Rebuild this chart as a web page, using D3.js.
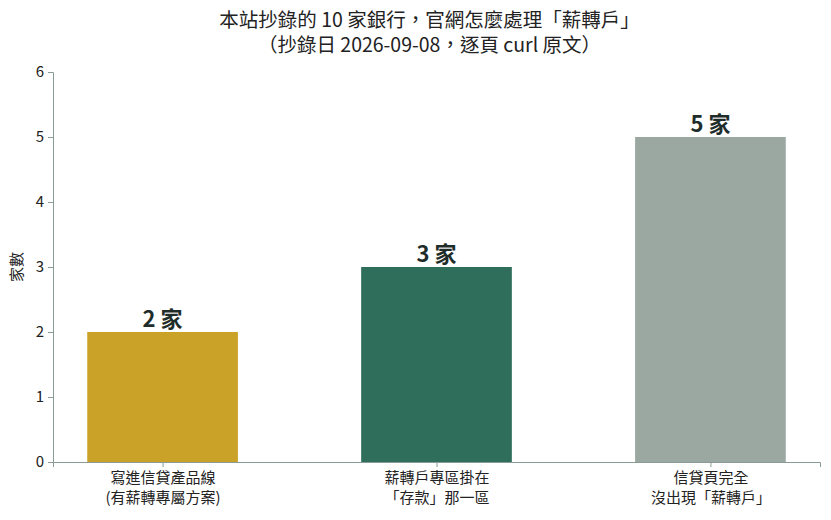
<!DOCTYPE html>
<html lang="zh-Hant">
<head>
  <meta charset="UTF-8">
  <title>薪轉戶</title>
  <script src="https://d3js.org/d3.v7.min.js"></script>
  <style>
    body { margin: 0; background: #fff; }
    svg text { font-family: "Noto Sans CJK TC", "Noto Sans", sans-serif; }
  </style>
</head>
<body>
  <div id="chart"></div>
  <script>
    const categories = [
      ["寫進信貸產品線", "(有薪轉專屬方案)"],
      ["薪轉戶專區掛在", "「存款」那一區"],
      ["信貸頁完全", "沒出現「薪轉戶」"]
    ];
    const counts = [2, 3, 5];
    const barColors = ["#c9a227", "#2e6e5a", "#9aa8a1"];
    const yTicks = [0, 1, 2, 3, 4, 5, 6];
    const titleLines = [
      "本站抄錄的 10 家銀行，官網怎麼處理「薪轉戶」",
      "（抄錄日 2026-09-08，逐頁 curl 原文）"
    ];

    const width = 831, height = 520;
    const margin = { top: 72, right: 11, bottom: 58, left: 53 };

    const svg = d3.select("#chart").append("svg")
        .attr("width", width)
        .attr("height", height);

    const x = d3.scaleLinear()
        .domain([-0.4, 2.4])
        .range([margin.left, width - margin.right]);

    const y = d3.scaleLinear()
        .domain([0, 6])
        .range([height - margin.bottom, margin.top]);

    const barW = 0.55;
    const axisColor = "#8a9a96";
    const textColor = "#222";

    // bars
    svg.selectAll("rect.bar")
        .data(counts)
        .enter()
        .append("rect")
        .attr("class", "bar")
        .attr("x", (d, i) => x(i - barW / 2))
        .attr("width", (d, i) => x(i + barW / 2) - x(i - barW / 2))
        .attr("y", d => y(d))
        .attr("height", d => y(0) - y(d))
        .attr("fill", (d, i) => barColors[i]);

    // value labels
    svg.selectAll("text.val")
        .data(counts)
        .enter()
        .append("text")
        .attr("class", "val")
        .attr("x", (d, i) => x(i))
        .attr("y", d => y(d) - 5)
        .attr("text-anchor", "middle")
        .attr("font-size", 22)
        .attr("font-weight", "bold")
        .attr("fill", "#1f2d2a")
        .text(d => d + " 家");

    // y axis
    const yAxis = svg.append("g")
        .attr("transform", `translate(${margin.left},0)`)
        .call(d3.axisLeft(y).tickValues(yTicks).tickFormat(d3.format("d")).tickSize(5).tickPadding(4));
    yAxis.selectAll("text").attr("font-size", 15).attr("fill", textColor);

    // x axis
    const xAxis = svg.append("g")
        .attr("transform", `translate(0,${height - margin.bottom})`)
        .call(d3.axisBottom(x).tickValues([0, 1, 2]).tickSize(5).tickFormat(""));

    svg.selectAll(".domain, .tick line").attr("stroke", axisColor);

    xAxis.selectAll(".tick").each(function(d) {
      const t = d3.select(this).append("text")
          .attr("fill", textColor)
          .attr("font-size", 15)
          .attr("text-anchor", "middle");
      categories[d].forEach((line, k) => {
        t.append("tspan").attr("x", 0).attr("y", 21 + k * 20).text(line);
      });
    });

    // y label
    svg.append("text")
        .attr("transform", `translate(22,${y(3)}) rotate(-90)`)
        .attr("text-anchor", "middle")
        .attr("font-size", 15)
        .attr("fill", textColor)
        .text("家數");

    // title, two lines in one text
    const title = svg.append("text")
        .attr("text-anchor", "middle")
        .attr("font-size", 19.5)
        .attr("fill", textColor);
    titleLines.forEach((line, k) => {
      title.append("tspan")
          .attr("x", (margin.left + width - margin.right) / 2 - 7)
          .attr("y", 27 + k * 25)
          .text(line);
    });
  </script>
</body>
</html>
